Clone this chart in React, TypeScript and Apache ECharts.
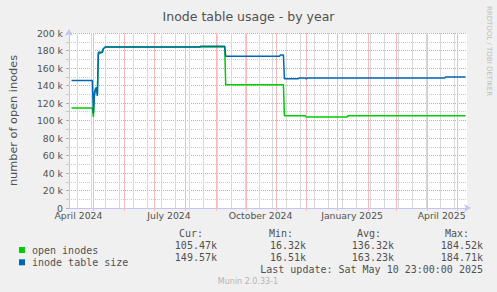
import React, { useEffect, useRef } from 'react';
import * as echarts from 'echarts';

// ---- data ----
const dates = [
  '2024-04-09', '2024-04-30', '2024-05-01', '2024-05-02', '2024-05-03', '2024-05-04',
  '2024-05-05', '2024-05-06', '2024-05-10', '2024-05-11', '2024-05-13', '2024-08-16',
  '2024-08-17', '2024-09-10', '2024-09-11', '2024-11-04', '2024-11-05', '2024-11-08',
  '2024-11-09', '2024-11-23', '2024-11-24', '2024-11-30', '2024-12-01', '2024-12-02',
  '2025-01-11', '2025-01-12', '2025-04-19', '2025-04-20', '2025-05-10',
];
const openInodes = [
  114300, 114300, 104000, 128000, 134000, 136000,
  130000, 176000, 178000, 182000, 184000, 184000,
  184000, 184000, 141000, 141000, 141000, 141000,
  105500, 105500, 105500, 105500, 104000, 104000,
  104000, 105500, 105500, 105500, 105500,
];
const inodeTableSize = [
  145800, 145800, 108000, 131000, 136000, 138000,
  128000, 178000, 178000, 182000, 184000, 184000,
  185000, 185000, 173300, 173300, 174900, 174900,
  147800, 147800, 148600, 148600, 147600, 148600,
  148600, 148600, 148600, 149600, 149600,
];
const seriesNames = ['open inodes', 'inode table size'];
const xLabelDates = ['2024-04-16', '2024-07-16', '2024-10-16', '2025-01-16', '2025-04-16'];
const xLabelTexts = ['April 2024', 'July 2024', 'October 2024', 'January 2025', 'April 2025'];
const statHeaders = ['Cur:', 'Min:', 'Avg:', 'Max:'];
const openInodesStats = ['105.47k', '16.32k', '136.32k', '184.52k'];
const tableSizeStats = ['149.57k', '16.51k', '163.23k', '184.71k'];
const lastUpdate = 'Last update: Sat May 10 23:00:00 2025';
const rangeStart = '2024-04-06T12:00:00Z';
const rangeEnd = '2025-05-11T12:00:00Z';

const ts = (s: string) => Date.parse(s.length === 10 ? s + 'T00:00:00Z' : s);
const DAY = 86400000;

const GREEN = '#00cc00';
const BLUE = '#0066b3';
const RED_GRID = '#f09a9a';
const GRAY_GRID = '#c8c8c8';
const RED_V = '#f4bcbc';
const GRAY_V = '#d9d9d9';
const AXIS = '#c4c4f4';
const TXT = '#505050';
const SANS = 'DejaVu Sans';
const MONO = 'DejaVu Sans Mono';

export default function App() {
  const ref = useRef<HTMLDivElement>(null);
  useEffect(() => {
    if (!ref.current) return;
    const chart = echarts.init(ref.current, undefined, { renderer: 'svg' });
    const xMin = ts(rangeStart);
    const xMax = ts(rangeEnd);

    const monthStarts: number[] = [];
    for (let i = 0; i < 13; i++) monthStarts.push(Date.UTC(2024, 4 + i, 1));
    const biweekly: number[] = [];
    for (let t = ts('2024-04-15'); t <= xMax; t += 14 * DAY) biweekly.push(t);
    // [time, kind] kind 0 = minor (gray), 1 = major (red)
    const gridLines = [...biweekly.map((t) => [t, 0]), ...monthStarts.map((t) => [t, 1])];
    const labelData = xLabelDates.map((d) => [ts(d), 0]);

    const cols = [203, 293, 381, 469];
    const valCols = [217, 306, 394, 483];
    const graphics: any[] = [];
    statHeaders.forEach((h, i) =>
      graphics.push({ type: 'text', x: cols[i], y: 233.5, style: { text: h, fill: TXT, font: `10px "${MONO}"`, textAlign: 'right', textVerticalAlign: 'middle' } })
    );
    openInodesStats.forEach((v, i) =>
      graphics.push({ type: 'text', x: valCols[i], y: 245.5, style: { text: v, fill: TXT, font: `10px "${MONO}"`, textAlign: 'right', textVerticalAlign: 'middle' } })
    );
    tableSizeStats.forEach((v, i) =>
      graphics.push({ type: 'text', x: valCols[i], y: 257.5, style: { text: v, fill: TXT, font: `10px "${MONO}"`, textAlign: 'right', textVerticalAlign: 'middle' } })
    );
    graphics.push({ type: 'text', x: 483, y: 269.5, style: { text: lastUpdate, fill: TXT, font: `10px "${MONO}"`, textAlign: 'right', textVerticalAlign: 'middle' } });
    graphics.push({ type: 'text', x: 248, y: 281, style: { text: 'Munin 2.0.33-1', fill: '#b4b4b4', font: `8px "${SANS}"`, textAlign: 'center', textVerticalAlign: 'middle' } });
    graphics.push({ type: 'text', x: 489, y: 51, rotation: -Math.PI / 2, style: { text: 'RRDTOOL / TOBI OETIKER', fill: '#bdbdbd', font: `7px "${SANS}"`, textAlign: 'center', textVerticalAlign: 'middle' } });

    chart.setOption({
      animation: false,
      backgroundColor: '#f0f0f0',
      title: {
        text: 'Inode table usage - by year',
        left: 'center',
        top: 5,
        textStyle: { fontFamily: SANS, fontSize: 12.5, fontWeight: 'normal', color: TXT },
      },
      grid: { left: 67, right: 30, top: 33, bottom: 84, show: true, backgroundColor: '#ffffff', borderWidth: 0 },
      legend: {
        orient: 'vertical',
        left: 14,
        top: 240,
        itemWidth: 6,
        itemHeight: 6,
        itemGap: 2.3,
        icon: 'rect',
        selectedMode: false,
        data: seriesNames,
        textStyle: { fontFamily: MONO, fontSize: 10, color: TXT, padding: [0, 0, 0, 2] },
      },
      xAxis: {
        type: 'value',
        min: xMin,
        max: xMax,
        splitLine: { show: false },
        axisLine: { show: true, lineStyle: { color: AXIS, width: 1 }, symbol: ['none', 'arrow'], symbolSize: [6, 7], symbolOffset: [0, 4] },
        axisTick: { show: false },
        axisLabel: { show: false },
      },
      yAxis: {
        type: 'value',
        min: 0,
        max: 200000,
        interval: 20000,
        name: 'number of open inodes',
        nameLocation: 'middle',
        nameGap: 50,
        nameTextStyle: { fontFamily: SANS, fontSize: 11.3, color: TXT },
        axisLine: { show: true, lineStyle: { color: AXIS, width: 1 }, symbol: ['none', 'arrow'], symbolSize: [6, 7], symbolOffset: [0, 4] },
        axisTick: { show: true, length: 3, lineStyle: { color: '#b0b0b0' } },
        minorTick: { show: true, splitNumber: 2, length: 3, lineStyle: { color: '#c8c8c8' } },
        splitLine: { show: true, lineStyle: { color: RED_GRID, type: [1, 1], width: 1 } },
        minorSplitLine: { show: true, lineStyle: { color: GRAY_GRID, type: [1, 1], width: 1 } },
        axisLabel: {
          formatter: (v: number) => (v === 0 ? '0' : `${v / 1000} k`),
          fontFamily: SANS,
          fontSize: 9.3,
          color: TXT,
          margin: 6,
        },
      },
      graphic: graphics,
      series: [
        {
          name: 'vgrid',
          type: 'custom',
          silent: true,
          data: gridLines,
          renderItem: (params: any, api: any) => {
            const t = api.value(0);
            const major = api.value(1) === 1;
            const p0 = api.coord([t, 0]);
            const p1 = api.coord([t, 200000]);
            const x = Math.round(p0[0]) + 0.5;
            return {
              type: 'line',
              shape: { x1: x, y1: p0[1] + (major ? 3 : 0), x2: x, y2: p1[1] },
              style: { stroke: major ? RED_V : GRAY_V, lineWidth: 1 },
            };
          },
        },
        {
          name: 'xlabels',
          type: 'custom',
          silent: true,
          clip: false,
          data: labelData,
          renderItem: (params: any, api: any) => {
            const p = api.coord([api.value(0), 0]);
            return {
              type: 'text',
              x: p[0],
              y: p[1] + 3,
              style: {
                text: xLabelTexts[params.dataIndex],
                fill: TXT,
                font: `9.3px "${SANS}"`,
                textAlign: 'center',
                textVerticalAlign: 'top',
              },
            };
          },
        },
        {
          name: seriesNames[0],
          type: 'line',
          z: 3,
          symbol: 'none',
          color: GREEN,
          lineStyle: { color: GREEN, width: 1.5 },
          data: dates.map((d, i) => [ts(d), openInodes[i]]),
        },
        {
          name: seriesNames[1],
          type: 'line',
          z: 4,
          symbol: 'none',
          color: BLUE,
          lineStyle: { color: BLUE, width: 1.5 },
          data: dates.map((d, i) => [ts(d), inodeTableSize[i]]),
        },
      ],
    });
    return () => chart.dispose();
  }, []);
  return <div ref={ref} style={{ position: 'fixed', left: 0, top: 0, width: 497, height: 292 }} />;
}
